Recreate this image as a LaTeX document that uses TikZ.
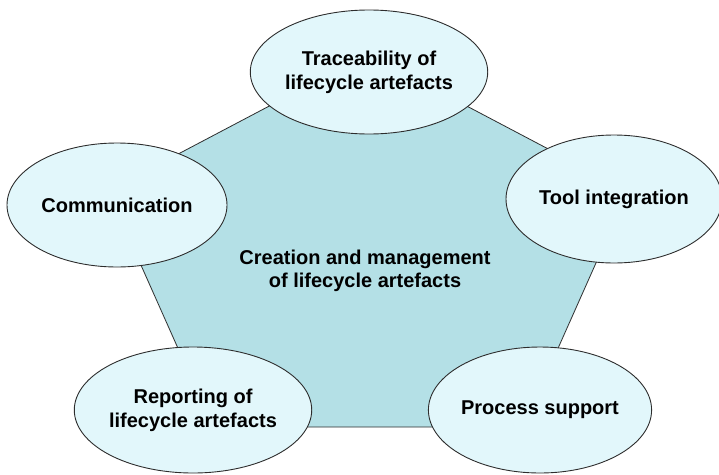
\documentclass[tikz,border=0pt]{standalone}
\usepackage{fontspec}
\setmainfont{Liberation Sans}
\usetikzlibrary{shapes.geometric}
\definecolor{pentfill}{RGB}{180,224,230}
\definecolor{ellfill}{RGB}{226,247,251}
\definecolor{linecol}{RGB}{45,45,45}
\tikzset{
  bubble/.style={ellipse, draw=linecol, line width=0.9pt, fill=ellfill, inner sep=0pt,
    align=center, font=\fontsize{20}{24}\selectfont\bfseries, text=black},
  centertext/.style={align=center, font=\fontsize{20}{23}\selectfont\bfseries, text=black}
}
\begin{document}
\begin{tikzpicture}[x=1pt,y=-1pt]
\useasboundingbox (0,0) rectangle (719,474);
\coordinate (pt) at (368,54);
\coordinate (pr) at (628,191);
\coordinate (pbr) at (523,427);
\coordinate (pbl) at (213,427);
\coordinate (pl) at (108,191);
\draw[linecol, line width=0.8pt, fill=pentfill] (pt) -- (pr) -- (pbr) -- (pbl) -- (pl) -- cycle;
\node[centertext] (core) at (365,271) {Creation and management\\of lifecycle artefacts};
\node[bubble, minimum width=230pt, minimum height=124pt] (trace) at (369,72) {Traceability of\\lifecycle artefacts};
\node[bubble, minimum width=220pt, minimum height=124pt] (comm) at (117,205) {Communication};
\node[bubble, minimum width=216pt, minimum height=128pt] (tool) at (614,199) {Tool integration};
\node[bubble, minimum width=216pt, minimum height=126pt] (report) at (193,410) {Reporting of\\lifecycle artefacts};
\node[bubble, minimum width=220pt, minimum height=126pt] (proc) at (540,410) {Process support};
\end{tikzpicture}
\end{document}
